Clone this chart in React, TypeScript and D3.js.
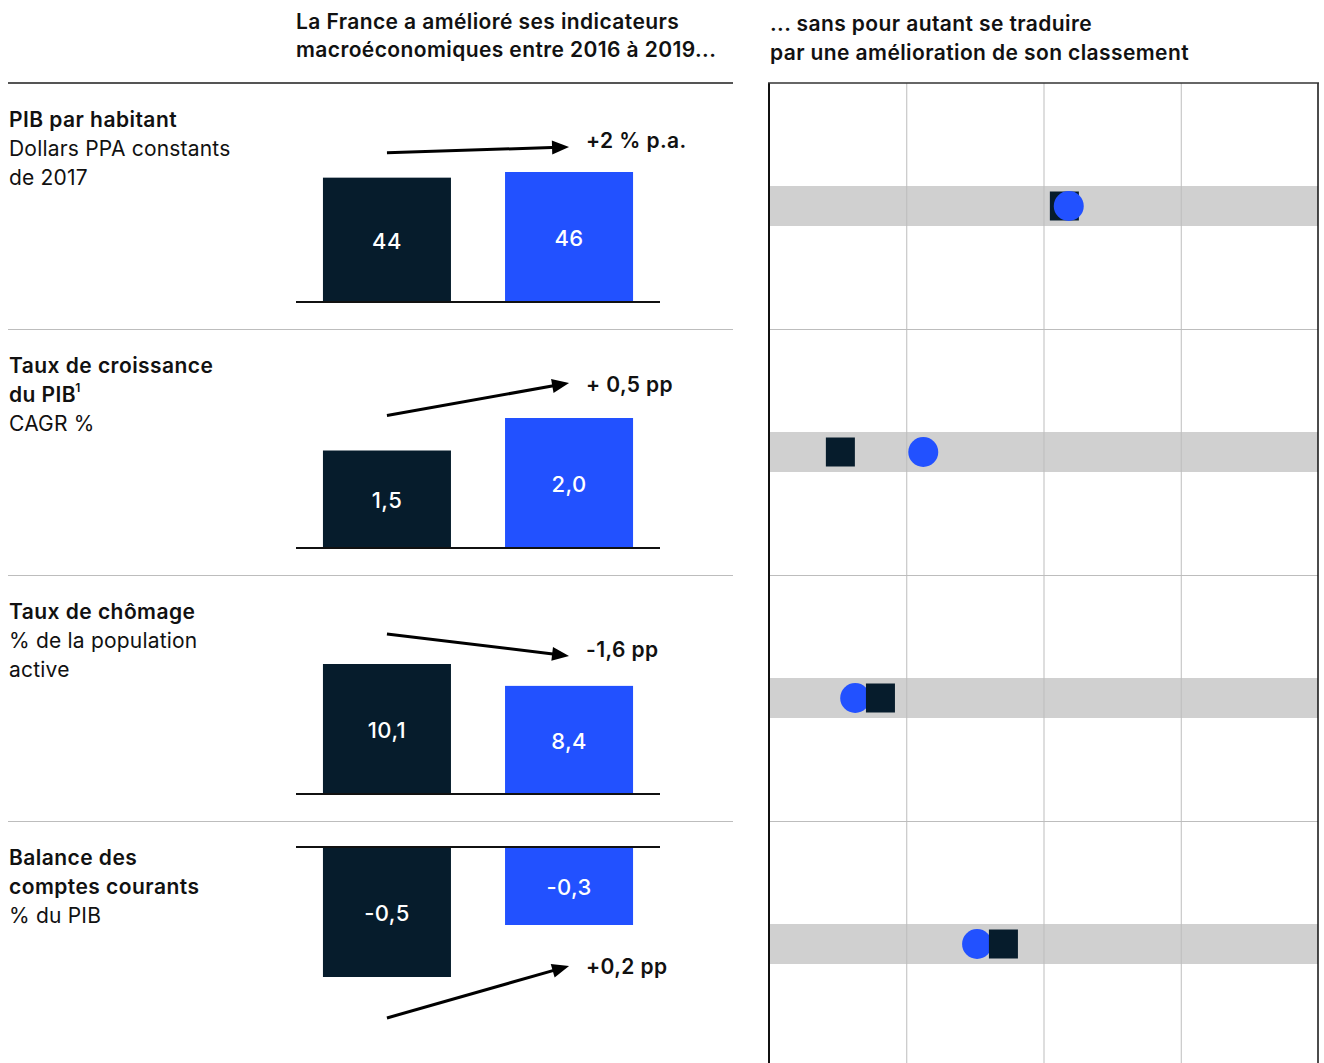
import React from "react";
import * as d3 from "d3";

// ---------- data ----------
const years = ["2016", "2019"];
const titleLines: string[][] = [
  ["PIB par habitant"],
  ["Taux de croissance", "du PIB|1"],
  ["Taux de chômage"],
  ["Balance des", "comptes courants"],
];
const unitLines: string[][] = [
  ["Dollars PPA constants", "de 2017"],
  ["CAGR %"],
  ["% de la population", "active"],
  ["% du PIB"],
];
const values2016 = [44, 1.5, 10.1, -0.5];
const values2019 = [46, 2.0, 8.4, -0.3];
const labels2016 = ["44", "1,5", "10,1", "-0,5"];
const labels2019 = ["46", "2,0", "8,4", "-0,3"];
const changeLabels = ["+2 % p.a.", "+ 0,5 pp", "-1,6 pp", "+0,2 pp"];
// position in ranking panel (0-100 scale, 4 equal columns)
const rank2016 = [53.8, 13.0, 20.3, 42.7];
const rank2019 = [54.6, 28.1, 15.7, 37.9];
const rankTicks = [25, 50, 75];
const headerLeft = ["La France a amélioré ses indicateurs", "macroéconomiques entre 2016 à 2019..."];
const headerRight = ["... sans pour autant se traduire", "par une amélioration de son classement"];

// ---------- style / layout ----------
const W = 1324;
const H = 1063;
const DARK = "#061c2c";
const BLUE = "#2251ff";
const FONT = "Inter, 'Liberation Sans', Arial, sans-serif";
const arrowGap = [25, 35, 30, 41];
const labelDy = [-7, 1, -6, 0];

export default function App() {
  const rowScale = d3.scaleBand<number>().domain([0, 1, 2, 3]).range([83, 83 + 4 * 246]);
  const xBar = d3.scaleBand<string>().domain(years).range([296, 660]).paddingInner(0.297).paddingOuter(0.148);
  const xRank = d3.scaleLinear().domain([0, 100]).range([769, 1318]);
  const barMax = 130;

  const rows = values2016.map((v16, i) => {
    const top = rowScale(i)!;
    const v19 = values2019[i];
    const maxV = Math.max(0, v16, v19);
    const minV = Math.min(0, v16, v19);
    let y: d3.ScaleLinear<number, number>;
    if (maxV > 0) {
      const base = top + 219;
      y = d3.scaleLinear().domain([0, maxV]).range([base, base - barMax]);
    } else {
      const base = top + 26;
      y = d3.scaleLinear().domain([minV, 0]).range([base + barMax, base]);
    }
    return { i, top, v16, v19, y, positive: maxV > 0 };
  });

  const arrowHead = (x1: number, y1: number, x2: number, y2: number) => {
    const ang = Math.atan2(y2 - y1, x2 - x1);
    const L = 17, Wd = 7;
    const bx = x2 - L * Math.cos(ang), by = y2 - L * Math.sin(ang);
    const px = -Math.sin(ang) * Wd, py = Math.cos(ang) * Wd;
    return `M${x2},${y2}L${bx + px},${by + py}L${bx - px},${by - py}Z`;
  };

  return (
    <svg width={W} height={H} style={{ position: "absolute", left: 0, top: 0, background: "#fff" }} fontFamily={FONT}>
      {/* headers */}
      {headerLeft.map((t, k) => (
        <text key={"hl" + k} x={296} y={21 + k * 28} dominantBaseline="central" fontSize={21} fontWeight={600} letterSpacing={0.4} fill="#111">
          {t}
        </text>
      ))}
      {headerRight.map((t, k) => (
        <text key={"hr" + k} x={770} y={23 + k * 29} dominantBaseline="central" fontSize={21} fontWeight={600} letterSpacing={0.4} fill="#111">
          {t}
        </text>
      ))}

      {/* left top rule */}
      <line x1={8} x2={733} y1={83} y2={83} stroke="#555" strokeWidth={2} />
      {/* row separators */}
      {[1, 2, 3].map((i) => (
        <g key={"sep" + i}>
          <line x1={8} x2={733} y1={rowScale(i)! + 0.5} y2={rowScale(i)! + 0.5} stroke="#bdbdbd" strokeWidth={1} />
          <line x1={769} x2={1318} y1={rowScale(i)! + 0.5} y2={rowScale(i)! + 0.5} stroke="#bdbdbd" strokeWidth={1} />
        </g>
      ))}

      {/* right panel bands */}
      {rows.map((r) => (
        <rect key={"band" + r.i} x={xRank(0)} y={r.top + 123 - 20} width={xRank(100) - xRank(0)} height={40} fill="#d0d0d0" />
      ))}
      {/* right panel gridlines */}
      {rankTicks.map((t) => (
        <line key={"g" + t} x1={xRank(t) + 0.5} x2={xRank(t) + 0.5} y1={83} y2={H} stroke="#bdbdbd" strokeWidth={1} />
      ))}
      <line x1={xRank(0)} x2={xRank(0)} y1={83} y2={H} stroke="#111" strokeWidth={2} />
      <line x1={xRank(100)} x2={xRank(100)} y1={83} y2={H} stroke="#111" strokeWidth={1.5} />
      <line x1={xRank(0) - 1} x2={xRank(100) + 1} y1={83} y2={83} stroke="#333" strokeWidth={1.5} />

      {/* markers */}
      {rows.map((r) => {
        const cy = r.top + 123;
        const marks = [
          { type: "sq", x: xRank(rank2016[r.i]) },
          { type: "ci", x: xRank(rank2019[r.i]) },
        ].sort((a, b) => a.x - b.x);
        return (
          <g key={"m" + r.i}>
            {marks.map((m) =>
              m.type === "sq" ? (
                <rect key="sq" x={m.x - 14.5} y={cy - 14.5} width={29} height={29} fill={DARK} />
              ) : (
                <circle key="ci" cx={m.x} cy={cy} r={15} fill={BLUE} />
              )
            )}
          </g>
        );
      })}

      {/* left labels */}
      {rows.map((r) => {
        const lines = [
          ...titleLines[r.i].map((t) => ({ t, bold: true })),
          ...unitLines[r.i].map((t) => ({ t, bold: false })),
        ];
        return (
          <g key={"lab" + r.i}>
            {lines.map((l, k) => {
              const [main, sup] = l.t.split("|");
              return (
                <text
                  key={k}
                  x={9}
                  y={r.top + 36 + k * 29}
                  dominantBaseline="central"
                  fontSize={21}
                  fontWeight={l.bold ? 600 : 400}
                  letterSpacing={l.bold ? 0.45 : 0.2}
                  fill="#111"
                >
                  {main}
                  {sup && (
                    <tspan fontSize={12} dy={-7} dx={-1}>
                      {sup}
                    </tspan>
                  )}
                </text>
              );
            })}
          </g>
        );
      })}

      {/* bars */}
      {rows.map((r) => {
        const y0 = r.y(0);
        const bars = [
          { yr: "2016", v: r.v16, label: labels2016[r.i], color: DARK },
          { yr: "2019", v: r.v19, label: labels2019[r.i], color: BLUE },
        ];
        const x16 = xBar("2016")! + xBar.bandwidth() / 2;
        const x19 = xBar("2019")! + xBar.bandwidth() / 2;
        const gap = arrowGap[r.i];
        const ay1 = r.positive ? r.y(r.v16) - gap : r.y(r.v16) + gap;
        const ay2 = r.positive ? r.y(r.v19) - gap : r.y(r.v19) + gap;
        return (
          <g key={"bars" + r.i}>
            {bars.map((b) => {
              const yv = r.y(b.v);
              const top = Math.min(yv, y0);
              const h = Math.abs(yv - y0);
              return (
                <g key={b.yr}>
                  <rect x={xBar(b.yr)} y={top} width={xBar.bandwidth()} height={h} fill={b.color} />
                  <text
                    x={xBar(b.yr)! + xBar.bandwidth() / 2}
                    y={top + h / 2 + 1}
                    textAnchor="middle"
                    dominantBaseline="central"
                    fill="#fff"
                    fontSize={22}
                    fontWeight={500}
                    letterSpacing={0.4}
                  >
                    {b.label}
                  </text>
                </g>
              );
            })}
            <line x1={296} x2={660} y1={y0} y2={y0} stroke="#111" strokeWidth={2} />
            <line x1={x16} y1={ay1} x2={x19 - 10} y2={ay2 + ((ay1 - ay2) * 10) / (x19 - x16)} stroke="#000" strokeWidth={3} />
            <path d={arrowHead(x16, ay1, x19, ay2)} fill="#000" />
            <text
              x={x19 + 17}
              y={ay2 + labelDy[r.i]}
              dominantBaseline="central"
              fontSize={21}
              fontWeight={600}
              letterSpacing={0.4}
              fill="#111"
            >
              {changeLabels[r.i]}
            </text>
          </g>
        );
      })}
    </svg>
  );
}
